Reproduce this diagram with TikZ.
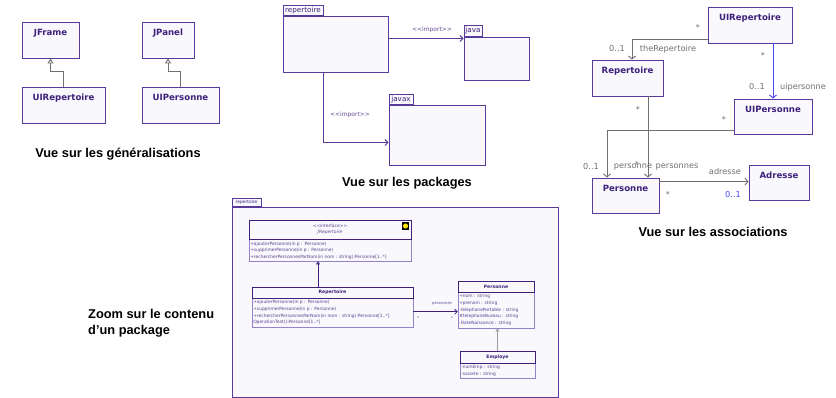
\documentclass[tikz,border=0pt]{standalone}
\usepackage{fontspec}
\setmainfont{Liberation Sans}
\newfontfamily\vfont{DejaVu Sans}
\usetikzlibrary{arrows.meta,calc}
\definecolor{umlb}{RGB}{88,58,155}
\definecolor{umlt}{RGB}{62,32,122}
\definecolor{umlf}{RGB}{248,248,253}
\definecolor{umll}{RGB}{150,130,200}
\definecolor{gline}{RGB}{112,112,112}
\definecolor{bline}{RGB}{72,72,255}
\begin{document}
\begin{tikzpicture}[x=1pt,y=-1pt,
  cls/.style={draw=umlb, fill=umlf, line width=0.9pt, inner sep=0pt},
  clsname/.style={anchor=north, yshift=-7.5pt, inner sep=0pt, font=\vfont\bfseries\fontsize{8.6}{9}\selectfont, text=umlt},
  pkg/.style={draw=umlb, fill=umlf, line width=0.9pt, inner sep=0pt},
  pktab/.style={draw=umlb, fill=umlf, line width=0.9pt, inner sep=0pt, anchor=south west, font=\vfont\fontsize{7.2}{8}\selectfont, text=umlt},
  title/.style={font=\bfseries\fontsize{12.8}{15.5}\selectfont, text=black},
  lab/.style={font=\vfont\fontsize{8.2}{9}\selectfont, text=gline, inner sep=0pt},
  implab/.style={font=\vfont\fontsize{6}{6.5}\selectfont, text=umlt!80, inner sep=0pt},
  gen/.style={draw=gline, line width=0.9pt, -{Triangle[open,length=5pt,width=6pt]}},
  imp/.style={draw=umlb, line width=0.9pt, -{Straight Barb[length=3pt,width=6pt]}},
  assoc/.style={draw=gline, line width=0.9pt, -{Straight Barb[length=3pt,width=7pt]}},
  tiny/.style={font=\vfont\fontsize{4.4}{6.7}\selectfont, text=umlt!85, inner sep=0pt, align=left, anchor=north west},
  tinyb/.style={font=\vfont\bfseries\fontsize{4.6}{5.5}\selectfont, text=umlt, inner sep=0pt},
  hdr/.style={draw=umlt, fill=umlf, line width=0.9pt, inner sep=0pt, anchor=north},
  body/.style={draw=umll, fill=umlf, line width=0.6pt, inner sep=0pt}
]
\useasboundingbox[fill=white] (0,0) rectangle (836,398);

% ---------- generalisations ----------
\node[cls, minimum width=57, minimum height=36, label={[clsname]north:JFrame}] (jframe) at (50.5,40) {};
\node[cls, minimum width=83, minimum height=36, label={[clsname]north:UIRepertoire}] (uirep) at (63.5,105) {};
\node[cls, minimum width=52, minimum height=36, label={[clsname]north:JPanel}] (jpanel) at (168,40) {};
\node[cls, minimum width=77, minimum height=36, label={[clsname]north:UIPersonne}] (uiperso) at (180.5,105) {};
\draw[gen] (uirep.north) -- ++(0,-15) -| (jframe.south);
\draw[gen] (uiperso.north) -- ++(0,-15) -| (jpanel.south);
\node[title] (tgen) at (118,154) {Vue sur les généralisations};

% ---------- packages ----------
\node[pkg, minimum width=105, minimum height=56] (pkrep) at (335.5,44) {};
\node[pktab, minimum width=40, minimum height=10] (pkreptab) at (pkrep.north west) {repertoire};
\node[pkg, minimum width=65, minimum height=43] (pkjava) at (496.5,58.5) {};
\node[pktab, minimum width=18, minimum height=11] (pkjavatab) at (pkjava.north west) {java};
\node[pkg, minimum width=96, minimum height=60] (pkjavax) at (437,135) {};
\node[pktab, minimum width=24, minimum height=10] (pkjavaxtab) at (pkjavax.north west) {javax};
\coordinate (ia) at ([yshift=-23pt]pkrep.north east);
\draw[imp] (ia) -- (ia -| pkjava.west);
\coordinate (ib) at (pkreptab.east |- pkrep.south);
\coordinate (ic) at ([yshift=-38pt]pkjavax.north west);
\draw[imp] (ib) |- (ic);
\node[implab] (il1) at (432,30) {<<import>>};
\node[implab] (il2) at (350,115) {<<import>>};
\node[title] (tpkg) at (407,183) {Vue sur les packages};

% ---------- associations ----------
\node[cls, minimum width=84, minimum height=36, label={[clsname]north:UIRepertoire}] (uirepA) at (750,25) {};
\node[cls, minimum width=71, minimum height=36, label={[clsname]north:Repertoire}] (repA) at (627.5,78) {};
\node[cls, minimum width=78, minimum height=35, label={[clsname]north:UIPersonne}] (uipA) at (773,116.5) {};
\node[cls, minimum width=67, minimum height=35, label={[clsname]north:Personne}] (persA) at (625.5,195.5) {};
\node[cls, minimum width=60, minimum height=35, label={[clsname]north:Adresse}] (adrA) at (779,182.5) {};
\coordinate (a1) at ([yshift=4pt]uirepA.south west);
\draw[assoc] (a1) -| ([xshift=4.5pt]repA.north);
\draw[assoc, draw=bline] (uirepA.south -| uipA.north) -- (uipA.north);
\coordinate (a3) at ([xshift=20.5pt]repA.south);
\draw[assoc] (a3) -- (a3 |- persA.north);
\coordinate (a4) at ([yshift=4pt]uipA.south west);
\draw[assoc] (a4) -| ([xshift=-18.5pt]persA.north);
\coordinate (a5) at ([yshift=-4pt]persA.north east);
\draw[assoc] (a5) -- (a5 -| adrA.west);
\node[lab] (m1) at (698,27) {*};
\node[lab] (m2) at (617,49) {0..1};
\node[lab] (r1) at (668,49) {theRepertoire};
\node[lab] (m3) at (763,55) {*};
\node[lab] (m4) at (757,87) {0..1};
\node[lab] (r2) at (803,87) {uipersonne};
\node[lab] (m5) at (638,109) {*};
\node[lab] (m6) at (724,119) {*};
\node[lab] (m7) at (591,167) {0..1};
\node[lab] (r3) at (633,167) {personne};
\node[lab] (m8) at (637,164) {*};
\node[lab] (r4) at (677,167) {personnes};
\node[lab] (r5) at (725,171) {adresse};
\node[lab] (m9) at (668,194) {*};
\node[lab, text=bline] (m10) at (733,195) {0..1};
\node[title] (tass) at (713,232) {Vue sur les associations};

% ---------- zoom on package ----------
\node[pkg, minimum width=326, minimum height=190] (bigpk) at (395,302) {};
\node[pktab, minimum width=29, minimum height=8, font=\vfont\fontsize{4.4}{5}\selectfont] (bigpktab) at (bigpk.north west) {repertoire};

% JRepertoire
\node[body, minimum width=162, minimum height=41] (jrep) at (330,240.5) {};
\node[hdr, minimum width=162, minimum height=19, align=center, font=\vfont\fontsize{4.4}{6}\selectfont, text=umlt!85] (jreph) at (jrep.north) {<<interface>>\\\textit{JRepertoire}};
\node[tiny] (jrepm) at ([xshift=1.5pt,yshift=-2pt]jreph.south west) {+ajouterPersonne(in p : Personne)\\+supprimerPersonne(in p : Personne)\\+rechercherPersonnesParNom(in nom : string):Personne[1..*]};
\node[fill=black, minimum size=7.5pt, inner sep=0pt] (icon) at (405.5,226) {};
\fill[yellow!85!orange] (icon.center) circle (2.6pt);

% Repertoire
\node[body, minimum width=161, minimum height=40] (repB) at (332.5,307) {};
\node[hdr, minimum width=161, minimum height=11] (repBh) at (repB.north) {};
\node[tinyb] (repBn) at (repBh.center) {Repertoire};
\node[tiny] (repBm) at ([xshift=1.5pt,yshift=-1.5pt]repBh.south west) {+ajouterPersonne(in p : Personne)\\+supprimerPersonne(in p : Personne)\\+rechercherPersonnesParNom(in nom : string):Personne[1..*]\\OperationTest():Personne[1..*]};

% Personne
\node[body, minimum width=76, minimum height=47] (persB) at (496,304.5) {};
\node[hdr, minimum width=76, minimum height=11] (persBh) at (persB.north) {};
\node[tinyb] (persBn) at (persBh.center) {Personne};
\node[tiny] (persBm) at ([xshift=1.5pt,yshift=-1.5pt]persBh.south west) {+nom : string\\+prenom : string\\-telephonePortable : string\\\#telephoneBureau : string\\-DateNaissance : string};

% Employe
\node[body, minimum width=75, minimum height=27] (empB) at (497.5,364.5) {};
\node[hdr, minimum width=75, minimum height=12] (empBh) at (empB.north) {};
\node[tinyb] (empBn) at (empBh.center) {Employe};
\node[tiny] (empBm) at ([xshift=1.5pt,yshift=-1.5pt]empBh.south west) {-numEmp : string\\-societe : string};

% connectors inside
\coordinate (z1) at ([xshift=-14.5pt]repB.north);
\draw[draw=umlt, line width=0.9pt, -{Triangle[open,length=3pt,width=4pt]}] (z1) -- (z1 |- jrep.south);
\draw[draw=gline!70, line width=1.3pt, -{Triangle[open,length=3pt,width=4pt]}] (empB.north) -- (empB.north |- persB.south);
\coordinate (z2) at ([yshift=-25pt]repB.north east);
\draw[draw=umlt, line width=0.8pt, -{Straight Barb[length=2.5pt,width=5pt]}] (z2) -- (z2 -| persB.west);
\node[font=\vfont\fontsize{3.8}{4}\selectfont, text=umlt!80, inner sep=0pt] (zl1) at (442,304) {personnes};
\node[font=\vfont\fontsize{4}{4}\selectfont, text=umlt!80, inner sep=0pt] (zl2) at (418,318) {*};
\node[font=\vfont\fontsize{4}{4}\selectfont, text=umlt!80, inner sep=0pt] (zl3) at (452,318) {*};

\node[title, align=left, anchor=west, inner sep=0pt] (tzoom) at (88,323) {Zoom sur le contenu\\d'un package};
\end{tikzpicture}
\end{document}
